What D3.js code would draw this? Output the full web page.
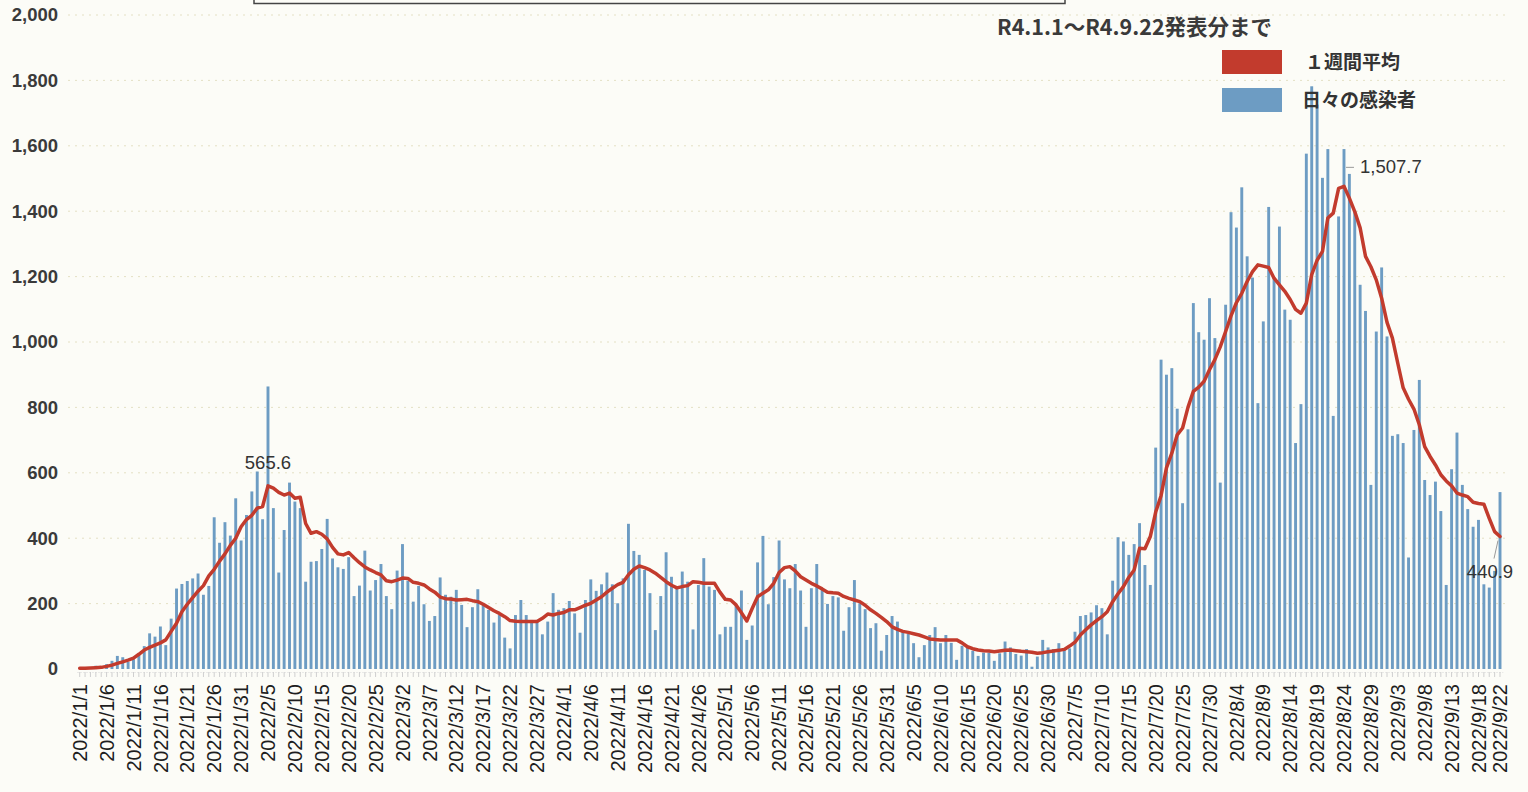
<!DOCTYPE html>
<html><head><meta charset="utf-8">
<script src="https://cdn.jsdelivr.net/npm/d3@7"></script>
<style>
html,body{margin:0;padding:0;background:#fcfcf7;}
svg{display:block;}
</style></head>
<body>
<svg id="chart" width="1528" height="792"></svg>
<script>
// ---- data ----
const startDate = "2022-01-01";
const dayCount = 265; // 2022/1/1 .. 2022/9/22
const daily = [
2,4,6,10,8,15,25,40,36,22,30,43,70,109,99,130,73,154,246,260,
269,277,292,227,254,464,386,449,408,522,393,471,543,604,458,864,492,295,425,570,
512,492,267,328,330,367,459,338,311,306,342,223,255,362,240,272,321,223,183,301,
382,270,206,254,198,147,162,280,227,221,242,196,128,189,244,196,181,142,165,96,
63,165,211,165,150,150,106,145,232,181,186,208,170,111,211,274,239,259,295,259,
201,277,444,361,349,303,232,119,223,357,282,247,298,267,121,257,339,252,242,106,
129,129,196,240,89,133,326,407,198,281,393,274,247,321,240,129,247,321,244,199,
223,219,117,189,272,201,183,125,140,56,104,162,145,119,107,79,36,73,104,128,
79,104,80,28,71,70,56,40,50,50,25,48,84,66,46,41,61,7,38,89,
66,61,79,61,63,114,162,165,173,195,186,106,270,403,390,349,382,446,318,257,
677,946,900,920,796,507,733,1119,1030,1007,1134,1012,570,1114,1397,1350,1473,1262,1197,813,
1063,1413,1196,1353,1099,1068,691,810,1576,1782,1726,1502,1590,774,1384,1590,1514,1401,1175,1095,
563,1032,1228,1017,713,718,691,341,731,884,578,532,573,483,257,611,723,563,489,435,
456,259,249,300,541
];
const weeklyAvg = [
2,2,3,4,5,8,12,17,22,27,33,45,58,66,73,80,89,115,140,175,
198,218,238,255,285,305,330,352,378,400,435,457,470,492,497,560,553,540,532,538,
522,525,445,415,420,412,398,372,352,349,356,340,325,312,303,295,288,270,267,272,
278,277,265,262,257,245,235,220,215,214,211,212,213,209,206,198,188,178,170,160,
148,146,145,145,145,145,155,168,165,170,173,181,181,188,195,201,211,221,235,247,
258,265,288,305,315,310,303,293,280,267,256,248,252,255,267,265,262,262,262,235,
213,211,196,172,147,185,221,232,242,262,295,310,313,300,282,272,262,254,245,235,
233,232,222,216,211,206,195,181,170,158,145,129,121,115,112,108,104,98,92,90,
89,89,89,89,80,68,62,58,56,55,53,55,57,58,56,54,53,51,48,50,
53,55,57,60,70,82,104,120,135,148,160,175,206,230,252,280,303,369,368,405,
480,530,615,660,716,737,800,849,862,880,915,946,985,1032,1080,1120,1149,1185,1215,1236,
1232,1228,1195,1175,1155,1130,1100,1088,1119,1206,1250,1277,1379,1394,1470,1476,1440,1399,1349,1262,
1230,1190,1134,1060,1012,935,860,825,795,747,680,650,624,594,575,560,538,532,527,510,
506,504,461,420,405
];
const yTicks = [0,200,400,600,800,1000,1200,1400,1600,1800,2000];
const labelEvery = 5;
const peakLabels = [
  {day:35, text:"565.6"},
  {day:235, text:"1,507.7"},
  {day:264, text:"440.9"}
];
const legendItems = [
  {name:"１週間平均", color:"#c23b2d"},
  {name:"日々の感染者", color:"#6d9cc3"}
];
const subtitle = "R4.1.1～R4.9.22発表分まで";

// ---- categories ----
const parse = d3.timeParse("%Y-%m-%d");
const d0 = parse(startDate);
const dates = d3.range(dayCount).map(i => d3.timeDay.offset(d0, i));
const fmt = d => `${d.getFullYear()}/${d.getMonth()+1}/${d.getDate()}`;
const cats = dates.map(fmt);
const tickCats = cats.filter((c,i) => i % labelEvery === 0 || i === dayCount - 1);

// ---- scales ----
const svg = d3.select("#chart");
const x = d3.scaleBand().domain(cats).range([77, 1502.7]).paddingInner(0.46).paddingOuter(0.23);
const y = d3.scaleLinear().domain([0, 2000]).range([669, 15]);
const cx = c => x(c) + x.bandwidth()/2;
const lf = "Liberation Sans, Arial, sans-serif";
const jf = "Noto Sans CJK JP, sans-serif";

// gridlines
svg.append("g").selectAll("line").data(yTicks.filter(t => t > 0)).join("line")
  .attr("x1", 68).attr("x2", 1510)
  .attr("y1", d => y(d)).attr("y2", d => y(d))
  .attr("stroke", "#e4e0c4").attr("stroke-width", 1)
  .attr("stroke-dasharray", "2,5");

// y axis labels
const yAxis = d3.axisLeft(y).tickValues(yTicks).tickSize(0).tickPadding(0)
  .tickFormat(d3.format(","));
const gy = svg.append("g").attr("transform", "translate(58,0)").call(yAxis);
gy.select(".domain").remove();
gy.selectAll("text").attr("font-family", lf)
  .attr("font-size", 18.5).attr("font-weight", "bold").attr("fill", "#3a3a3a");

// bars
svg.append("g").selectAll("rect").data(daily).join("rect")
  .attr("x", (d,i) => x(cats[i]))
  .attr("width", x.bandwidth())
  .attr("y", d => y(d))
  .attr("height", d => y(0) - y(d))
  .attr("fill", "#6d9cc3");

// x axis
const xAxis = d3.axisBottom(x).tickValues(tickCats).tickSize(0).tickPadding(0);
const gx = svg.append("g").attr("transform", "translate(0,672)").call(xAxis);
gx.select(".domain").attr("stroke", "#d8d8d8").attr("stroke-dasharray", "1,2");
gx.selectAll("text")
  .attr("font-family", lf)
  .attr("font-size", 20).attr("fill", "#1e1e1e")
  .attr("text-anchor", "end")
  .attr("transform", "rotate(-90)")
  .attr("x", -12).attr("y", 0).attr("dy", "0.36em");

// small day ticks
svg.append("g").selectAll("line").data(cats).join("line")
  .attr("x1", d => cx(d)).attr("x2", d => cx(d))
  .attr("y1", 672).attr("y2", 677)
  .attr("stroke", "#cfcfcf").attr("stroke-width", 1);

// weekly average line
const line = d3.line().x((d,i) => cx(cats[i])).y(d => y(d)).curve(d3.curveLinear);
svg.append("path").datum(weeklyAvg).attr("d", line)
  .attr("fill", "none").attr("stroke", "#c23b2d").attr("stroke-width", 3.5)
  .attr("stroke-linejoin", "round").attr("stroke-linecap", "round");

// data labels
const pl = svg.append("g").attr("font-family", lf).attr("font-size", 18.5).attr("fill", "#333");
peakLabels.forEach((p, k) => {
  const px = cx(cats[p.day]), py = y(weeklyAvg[p.day]);
  if (k === 0) {
    pl.append("text").attr("x", px).attr("y", py - 17).attr("text-anchor", "middle").text(p.text);
  } else if (k === 1) {
    svg.append("line").attr("x1", px + 2).attr("x2", px + 10).attr("y1", py - 19).attr("y2", py - 19)
      .attr("stroke", "#9a9a9a").attr("stroke-width", 1);
    pl.append("text").attr("x", px + 16).attr("y", py - 13).text(p.text);
  } else {
    svg.append("line").attr("x1", px - 2).attr("x2", px - 6).attr("y1", py + 4).attr("y2", py + 22)
      .attr("stroke", "#9a9a9a").attr("stroke-width", 1);
    pl.append("text").attr("x", px - 10).attr("y", py + 41).attr("text-anchor", "middle").text(p.text);
  }
});

// top frame (cut off title box)
svg.append("rect").attr("x", 254).attr("y", -30).attr("width", 811).attr("height", 33.5)
  .attr("fill", "none").attr("stroke", "#444").attr("stroke-width", 1.5);

// subtitle
svg.append("text").attr("x", 997).attr("y", 35)
  .attr("font-family", jf).attr("font-size", 21.5).attr("font-weight", "bold")
  .attr("fill", "#3a3a3a").text(subtitle);

// legend
const lg = svg.append("g");
legendItems.forEach((it, i) => {
  const yy = 50 + i * 38;
  lg.append("rect").attr("x", 1222).attr("y", yy).attr("width", 60).attr("height", 24).attr("fill", it.color);
  lg.append("text").attr("x", i === 0 ? 1305 : 1302).attr("y", yy + 19)
    .attr("font-family", jf).attr("font-size", 19).attr("font-weight", "bold")
    .attr("fill", "#333").text(it.name);
});
</script>
</body></html>
